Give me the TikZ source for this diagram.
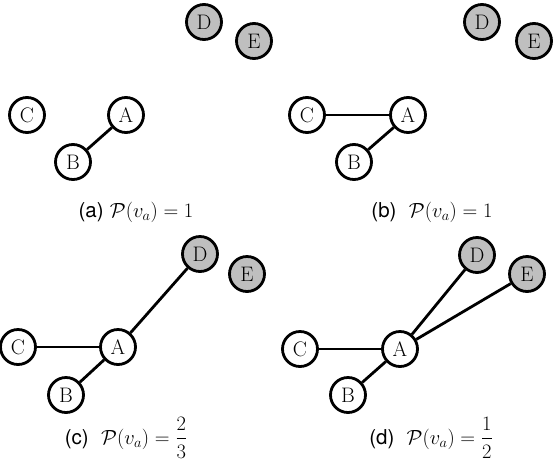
\RequirePackage{fix-cm}
\documentclass[tikz,border=0pt]{standalone}
\usepackage{amsmath}
\usepackage{fontspec}
\newfontfamily\capsf{TeX Gyre Heros}
\begin{document}
\begin{tikzpicture}[x=1pt,y=-1pt,
  vtx/.style={circle,draw,line width=2.8pt,minimum size=35pt,inner sep=0pt,fill=white,font=\fontsize{21}{21}\selectfont},
  gvtx/.style={vtx,fill=gray!50},
  edge/.style={line width=2.8pt},
  capt/.style={anchor=base,inner sep=0pt,font=\fontsize{20.5}{24}\selectfont}]
\useasboundingbox (0,0) rectangle (554,464);
% (a)
\node[gvtx] (Da) at (204,22) {D};
\node[gvtx] (Ea) at (254,41) {E};
\node[vtx] (Ca) at (27,115) {C};
\node[vtx] (Aa) at (126,115) {A};
\node[vtx] (Ba) at (73,162) {B};
\draw[edge] (Aa) -- (Ba);
\node[capt] (capa) at (136,217) {{\capsf (a)} $\mathcal{P}(v_a)=1$};
% (b)
\node[gvtx] (Db) at (482,22) {D};
\node[gvtx] (Eb) at (534,41) {E};
\node[vtx] (Cb) at (307,115) {C};
\node[vtx] (Ab) at (408,115) {A};
\node[vtx] (Bb) at (354,162) {B};
\draw[edge] (Cb) -- (Ab);
\draw[edge] (Ab) -- (Bb);
\node[capt] (capb) at (432,217) {{\capsf (b)} \ $\mathcal{P}(v_a)=1$};
% (c)
\node[gvtx] (Dc) at (200,254) {D};
\node[gvtx] (Ec) at (247,274) {E};
\node[vtx] (Cc) at (18,347) {C};
\node[vtx] (Ac) at (118,347) {A};
\node[vtx] (Bc) at (66,395) {B};
\draw[edge] (Cc) -- (Ac);
\draw[edge] (Ac) -- (Bc);
\draw[edge] (Ac) -- (Dc);
\node[capt] (capc) at (126,444) {{\capsf (c)} \ $\mathcal{P}(v_a)=\dfrac{2}{3}$};
% (d)
\node[gvtx] (Dd) at (477,255) {D};
\node[gvtx] (Ed) at (527,274) {E};
\node[vtx] (Cd) at (300,349) {C};
\node[vtx] (Ad) at (400,349) {A};
\node[vtx] (Bd) at (348,395) {B};
\draw[edge] (Cd) -- (Ad);
\draw[edge] (Ad) -- (Bd);
\draw[edge] (Ad) -- (Dd);
\draw[edge] (Ad) -- (Ed);
\node[capt] (capd) at (431,444) {{\capsf (d)} \ $\mathcal{P}(v_a)=\dfrac{1}{2}$};
\end{tikzpicture}
\end{document}
